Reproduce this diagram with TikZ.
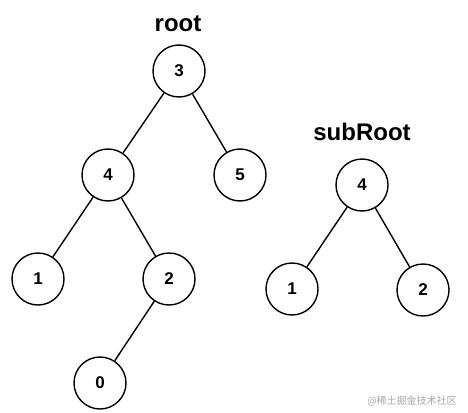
\documentclass[tikz,border=0pt]{standalone}
\usepackage{fontspec}
\setmainfont{Liberation Sans}
\newfontfamily\cjk{Noto Sans CJK SC}
\usepackage{tikz}
\tikzset{
  treenode/.style = {circle, draw, line width = 1.4pt, minimum size = 52pt,
                     inner sep = 0pt, font = \fontsize{17}{17}\selectfont\bfseries},
  treelabel/.style = {font = \fontsize{24}{24}\selectfont\bfseries},
  treeedge/.style = {line width = 1.4pt}
}

\begin{document}
\begin{tikzpicture}[x=1pt, y=-1pt]
  \useasboundingbox (0,0) rectangle (468,412);

  % root tree
  \node [treelabel] (rootlabel) at (178, 24) {root};
  \node [treenode] (r3) at (179,  71) {3};
  \node [treenode] (r4) at (108, 175) {4};
  \node [treenode] (r5) at (240, 175) {5};
  \node [treenode] (r1) at ( 38, 279) {1};
  \node [treenode] (r2) at (169, 279) {2};
  \node [treenode] (r0) at (100, 383) {0};

  \draw [treeedge] (r3) -- (r4);
  \draw [treeedge] (r3) -- (r5);
  \draw [treeedge] (r4) -- (r1);
  \draw [treeedge] (r4) -- (r2);
  \draw [treeedge] (r2) -- (r0);

  % subRoot tree
  \node [treelabel] (sublabel) at (362, 132) {subRoot};
  \node [treenode] (s4) at (362, 185) {4};
  \node [treenode] (s1) at (292, 289) {1};
  \node [treenode] (s2) at (423, 290) {2};

  \draw [treeedge] (s4) -- (s1);
  \draw [treeedge] (s4) -- (s2);

  % watermark
  \node [text = black!35, font = \cjk\fontsize{10}{10}\selectfont] (mark) at (412, 401) {@稀土掘金技术社区};
\end{tikzpicture}
\end{document}
